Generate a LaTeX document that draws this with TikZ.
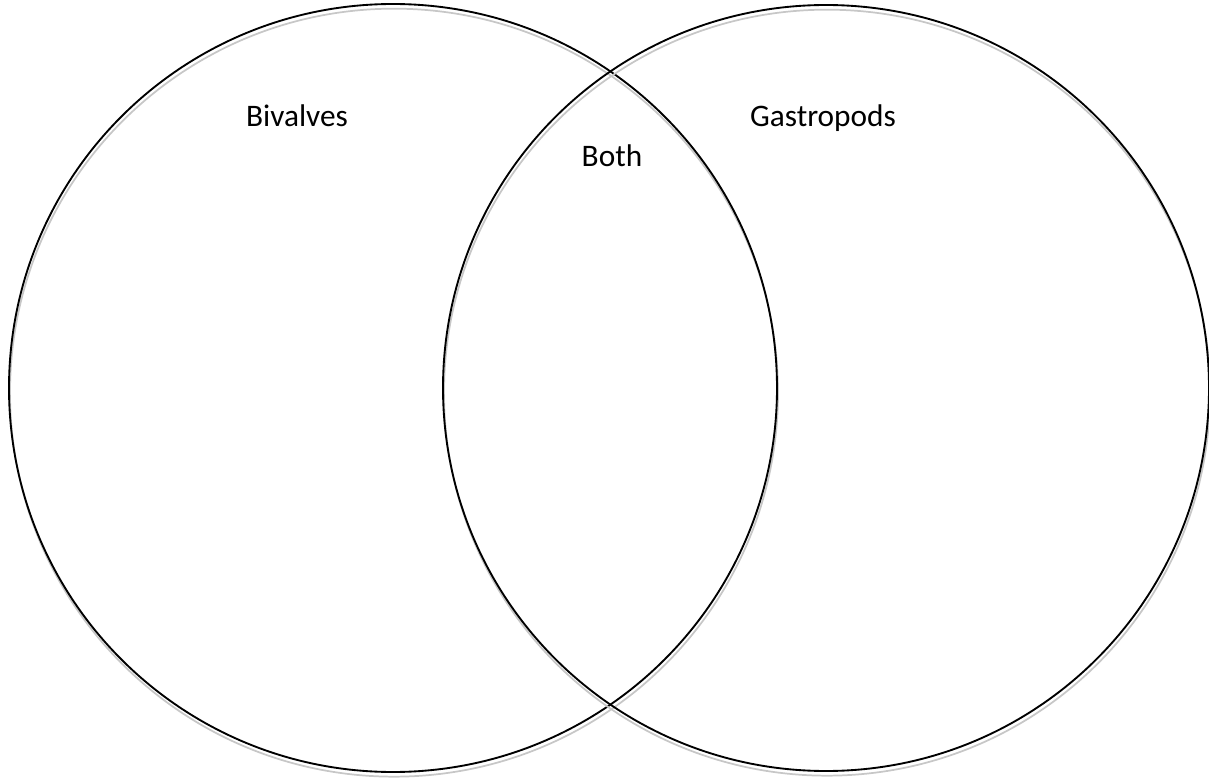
\documentclass[tikz,border=0pt]{standalone}
\usepackage{fontspec}
\setmainfont{Carlito}
\usepackage{tikz}

\tikzset{
  setline/.style={line width=1.4pt, black},
  shadowline/.style={line width=1.3pt, black!22},
  setlabel/.style={anchor=base, inner sep=0pt, font=\fontsize{23.5pt}{28pt}\selectfont}
}

\begin{document}
\begin{tikzpicture}[x=0.75pt, y=-0.75pt]
    \useasboundingbox (0,0) rectangle (1209,780);

    % Draw the two sets with their shadows
    \foreach \n/\cx/\r in {bivalvesset/393/384, gastropodsset/826/383} {
      \coordinate (\n) at (\cx,388);
      \draw[shadowline] ([xshift=0.75pt, yshift=-3.5pt]\n) circle (\r);
      \draw[setline] (\n) circle (\r);
    }

    % Labels
    \node[setlabel] (bivalves) at (297,127) {Bivalves};
    \node[setlabel] (both) at (612,167) {Both};
    \node[setlabel] (gastropods) at (823,127) {Gastropods};
\end{tikzpicture}
\end{document}
